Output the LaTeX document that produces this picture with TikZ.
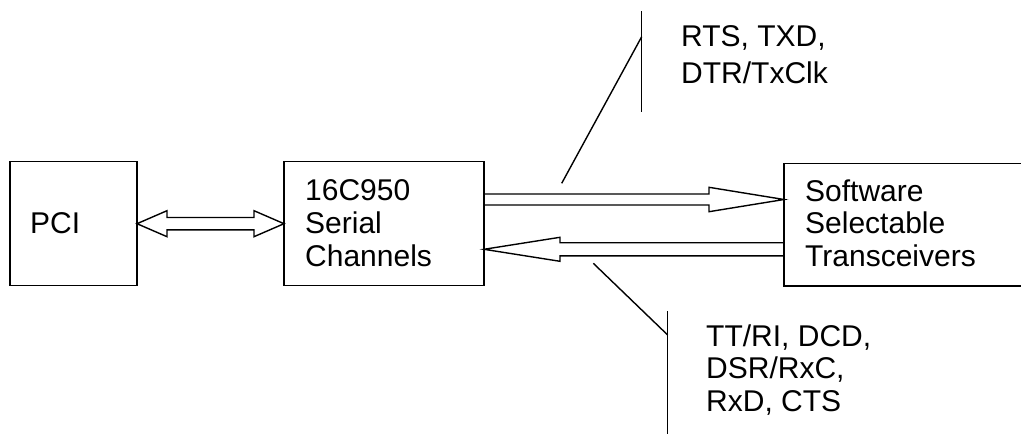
\documentclass[tikz,border=0pt]{standalone}
\usepackage{fontspec}
\setmainfont{Liberation Sans}
\usetikzlibrary{calc}
\begin{document}
\begin{tikzpicture}[x=1pt,y=-1pt,
  box/.style={draw, line width=1.4pt, inner sep=0pt, outer sep=0pt},
  lbl/.style={anchor=base west, inner sep=0pt, align=left, font=\fontsize{30}{32.8}\selectfont},
  ln/.style={line width=1.4pt},
  blk/.style={draw, line width=1.4pt, line join=miter}]
\useasboundingbox (0,0) rectangle (1021,434);
\clip (0,0) rectangle (1021,434);
% boxes
\node[box, minimum width=127, minimum height=124] (pci) at (73.5,223.7) {};
\node[box, minimum width=200, minimum height=124] (ch) at (384,223.7) {};
\node[box, minimum width=270, minimum height=122.7] (sw) at (919,224.65) {};
% texts (base anchor = baseline of last line)
\node[lbl] (pcit) at (30,233.3) {PCI};
\node[lbl] (cht) at (305,266.5) {16C950\\Serial\\Channels};
\node[lbl] (swt) at (805,266.7) {Software\\Selectable\\Transceivers};
\node[lbl, font=\fontsize{30}{36.7}\selectfont] (txt) at (681,83.3) {RTS, TXD,\\DTR/TxClk};
\node[lbl] (rxt) at (706,411.7) {TT/RI, DCD,\\DSR/RxC,\\RxD, CTS};
% double arrow PCI <-> channels
\draw[blk] (pci.east) -- ++(30,-13) -- ++(0,6.8) -- ($(ch.west)+(-30,-6.2)$) -- ++(0,-6.8)
  -- (ch.west) -- ++(-30,13) -- ++(0,-6.8) -- ($(pci.east)+(30,6.2)$) -- ++(0,6.8) -- cycle;
% upper arrow channels -> transceivers
\coordinate (ua1) at (ch.east |- 0,199.5);
\coordinate (ua2) at (sw.west |- 0,199.5);
\draw[blk] ($(ua1)+(0,-5.5)$) -- ($(ua2)+(-75,-5.5)$) -- ++(0,-6.7) -- (ua2)
  -- ($(ua2)+(-75,12.2)$) -- ++(0,-6.7) -- ($(ua1)+(0,5.5)$);
% lower arrow transceivers -> channels
\coordinate (la1) at (sw.west |- 0,249.3);
\coordinate (la2) at (ch.east |- 0,249.3);
\draw[blk] ($(la1)+(0,-6.6)$) -- ($(la2)+(76,-6.6)$) -- ++(0,-5.4) -- (la2)
  -- ($(la2)+(76,12)$) -- ++(0,-5.4) -- ($(la1)+(0,6.6)$);
% leader lines
\coordinate (tl1) at (561.7,183.3);
\coordinate (tl2) at (641.7,36.7);
\coordinate (tv1) at (641.7,11);
\coordinate (tv2) at (641.7,112);
\draw[ln] (tl1) -- (tl2);
\draw[ln] (tv1) -- (tv2);
\coordinate (rl1) at (593.3,263.3);
\coordinate (rl2) at (667.7,335);
\coordinate (rv1) at (667.7,311);
\coordinate (rv2) at (667.7,440);
\draw[ln] (rl1) -- (rl2);
\draw[ln] (rv1) -- (rv2);
\end{tikzpicture}
\end{document}
